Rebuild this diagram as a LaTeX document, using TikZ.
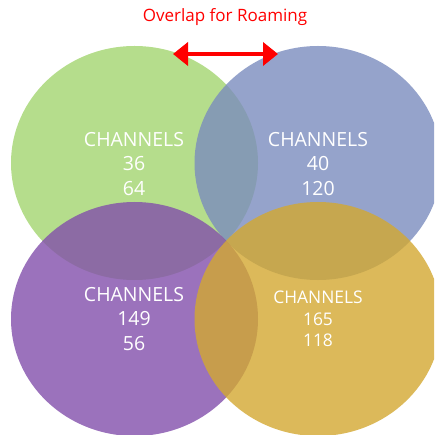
\documentclass[tikz,border=0pt]{standalone}
\usepackage{fontspec}
\setmainfont{Open Sans}
\usepackage{tikz}
\usetikzlibrary{arrows.meta, positioning}
\definecolor{Venn_Green}{HTML}{A3D56F}
\definecolor{Venn_Blue}{HTML}{7B8CBE}
\definecolor{Venn_Purple}{HTML}{824FAB}
\definecolor{Venn_Gold}{HTML}{D3A831}
\definecolor{Roam_Red}{HTML}{FF0000}

\begin{document}
\begin{tikzpicture}[x=1pt, y=-1pt,
    zone/.style={fill opacity=0.8},
    chan/.style={text=white, font=\fontsize{19.5}{24.5}\selectfont, align=center, inner sep=0pt},
    chansmall/.style={chan, font=\fontsize{17.4}{21.5}\selectfont}]
    % Page frame
    \useasboundingbox (0,0) rectangle (434,435);
    \clip (0,0) rectangle (434,435);

    % Coverage zones
    \fill[zone, Venn_Green]  (134.5,163) ellipse [x radius=123.5pt, y radius=117pt];
    \fill[zone, Venn_Blue]   (318,163)   ellipse [x radius=123.5pt, y radius=117pt];
    \fill[zone, Venn_Purple] (134.5,319) ellipse [x radius=123.5pt, y radius=117pt];
    \fill[zone, Venn_Gold]   (318,319)   ellipse [x radius=123.5pt, y radius=117pt];

    % Channel labels
    \node[chan] (ch_green)  at (134,164) {CHANNELS\\36\\64};
    \node[chan] (ch_blue)   at (318,164) {CHANNELS\\40\\120};
    \node[chan] (ch_purple) at (134,319) {CHANNELS\\149\\56};
    \node[chansmall] (ch_gold) at (318,319) {CHANNELS\\165\\118};

    % Roaming overlap
    \node[text=Roam_Red, font=\fontsize{17}{20}\selectfont] (title) at (225,17) {Overlap for Roaming};
    \coordinate (ov_left)  at (173,54);
    \coordinate (ov_right) at (278,54);
    \draw[{Triangle[length=15pt,width=23pt]}-{Triangle[length=15pt,width=23pt]}, Roam_Red, line width=4pt]
        (ov_left) -- (ov_right);
\end{tikzpicture}
\end{document}
